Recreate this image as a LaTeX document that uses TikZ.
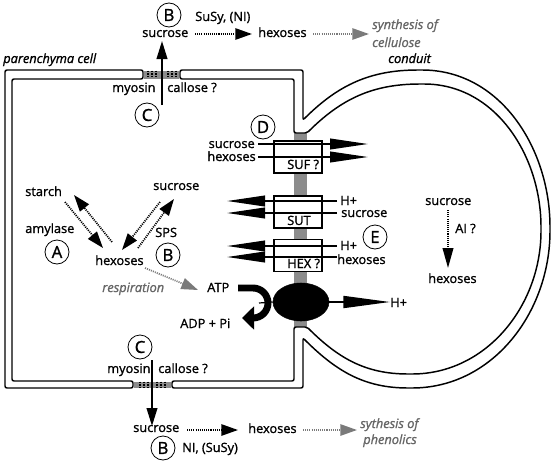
\documentclass[tikz,border=0pt]{standalone}
\usepackage{fontspec}
\setmainfont{Open Sans}[FakeBold=1.2]
\usetikzlibrary{arrows.meta,shapes.geometric}
\definecolor{txtgray}{HTML}{666666}
\definecolor{arrgray}{HTML}{7A7A7A}
\definecolor{bargray}{HTML}{8C8C8C}
\begin{document}
\begin{tikzpicture}[x=0.75pt,y=0.75pt,
 every node/.style={font=\fontsize{9.6}{11}\selectfont, inner sep=0pt},
 lbl/.style={anchor=base west},
 lblr/.style={anchor=base east},
 gtxt/.style={anchor=base west, text=txtgray, font=\fontsize{9.6}{11}\selectfont\itshape},
 itxt/.style={anchor=base west, font=\fontsize{9.6}{11}\selectfont\itshape},
 circ/.style={draw, circle, line width=0.6pt, minimum size=18pt, font=\fontsize{12.5}{13}\selectfont},
 wall/.style={draw, line width=1.1pt, fill=white, rounded corners=1.5pt},
 pddot/.style={line width=0.9pt, dash pattern=on 1pt off 1pt},
 bigarrow/.style={line width=1.4pt, -{Triangle[length=13.5pt,width=8pt]}},
 dotarrow/.style={line width=1.3pt, dash pattern=on 0.8pt off 0.8pt, -{Triangle[length=12.5pt,width=8.5pt]}},
 grayarrow/.style={line width=1.3pt, draw=arrgray, dash pattern=on 0.8pt off 0.8pt, -{Triangle[length=12.5pt,width=8.5pt,fill=arrgray]}},
 trarrow/.style={line width=1.3pt, -{Triangle[length=28.5pt,width=8pt]}},
 tbox/.style={draw, line width=1pt, fill=white, minimum width=36pt, minimum height=24pt}
]
\path[use as bounding box] (0,0) rectangle (553,-464);

% gray membrane bar
\fill[bargray] (294,-133) rectangle (307,-327);

% cell wall (left part)
\draw[wall] (143,-70) -- (5,-70) -- (5,-388) -- (133,-388) -- (133,-381) -- (12,-381) -- (12,-79) -- (143,-79) -- cycle;
% cell wall (right part) + conduit
\draw[wall] (180,-70) -- (303,-70) -- (303,-120) to[out=45,in=180] (420,-70) to[out=0,in=90] (550,-229)
  to[out=-90,in=0] (410,-388) to[out=180,in=-45] (303,-338) -- (303,-388) -- (172,-388) -- (172,-381)
  -- (294,-381) -- (294,-327) -- (307,-327) to[out=-45,in=180] (410,-374) to[out=0,in=-90] (541,-229)
  to[out=90,in=0] (422,-84) to[out=180,in=45] (307,-133) -- (294,-133) -- (294,-79) -- (180,-79) -- cycle;

% plasmodesmata
\fill[bargray] (143.6,-70.5) rectangle (179.4,-78.5);
\fill[bargray] (133.6,-381.5) rectangle (171.4,-387.5);
\foreach \x in {148,152,156,168,172,176} \draw[pddot] (\x,-70.5) -- (\x,-78.5);
\foreach \x in {140,144,148,157,161,165} \draw[pddot] (\x,-381.5) -- (\x,-387.5);

% ---------- top ----------
\node[circ] (cB1) at (169,-15) {B};
\node[lbl] (susy1) at (195,-21) {SuSy, (NI)};
\node[lbl] (suc1) at (142,-37) {sucrose};
\node[lbl] (hex1) at (258,-37) {hexoses};
\node[gtxt] (syn1a) at (372,-29) {synthesis of};
\node[gtxt] (syn1b) at (372,-47) {cellulose};
\node[itxt] (cond) at (388,-63) {conduit};
\node[itxt] (paren) at (3,-63) {parenchyma cell};
\node[lbl] (myo1) at (112,-92) {myosin};
\node[lbl] (cal1) at (167,-92) {callose ?};
\node[circ] (cC1) at (147,-115) {C};
\coordinate (a1s) at (162,-105);
\coordinate (a1e) at (162,-41);
\draw[bigarrow] (a1s) -- (a1e);
\coordinate (d1s) at (195,-34);
\coordinate (d1e) at (252,-34);
\draw[dotarrow] (d1s) -- (d1e);
\coordinate (g1s) at (313,-34);
\coordinate (g1e) at (369,-34);
\draw[grayarrow] (g1s) -- (g1e);

% ---------- interior ----------
\node[lbl] (starch) at (25,-196) {starch};
\node[lbl] (amyl) at (25,-233) {amylase};
\node[circ] (cA) at (57,-252) {A};
\node[lbl] (hexI) at (95,-265) {hexoses};
\node[lbl] (sucI) at (153,-190) {sucrose};
\node[lbl] (sps) at (155,-237) {SPS};
\node[circ] (cB2) at (168,-255) {B};
\node[gtxt] (resp) at (102,-292) {respiration};
\node[lbl] (atp) at (207,-292) {ATP};
\node[lbl] (adp) at (180,-328) {ADP + Pi};
\node[circ] (cC2) at (140,-347) {C};

\coordinate (s1) at (65,-202); \coordinate (s2) at (103,-248);
\coordinate (s3) at (112,-242); \coordinate (s4) at (74,-195);
\coordinate (u1) at (160,-202); \coordinate (u2) at (122,-250);
\coordinate (u3) at (138,-248); \coordinate (u4) at (174,-199);
\draw[dotarrow] (s1) -- (s2);
\draw[dotarrow] (s3) -- (s4);
\draw[dotarrow] (u1) -- (u2);
\draw[dotarrow] (u3) -- (u4);
\coordinate (r1) at (145,-268); \coordinate (r2) at (198,-290);
\draw[grayarrow] (r1) -- (r2);

% ATP hook and pump
\node[draw, fill=black, ellipse, minimum width=42pt, minimum height=28.5pt] (pump) at (301,-302) {};
\coordinate (hk) at (259,-303);
\draw[line width=0.9pt] (hk) -- (pump.west);
\draw[line width=5.2pt, -{Triangle[length=9pt,width=17pt]}] (238,-288) -- (253,-288) arc[start angle=90, end angle=-90, radius=11.25pt] -- (242,-318);

% transporters
\node[circ] (cD) at (263,-127) {D};
\node[lblr] (sucD) at (255,-148) {sucrose};
\node[lblr] (hexD) at (256,-161) {hexoses};
\node[tbox] (suf) at (298,-157) {};
\node[tbox] (sut) at (298,-212) {};
\node[tbox] (hexb) at (298,-255.5) {};
\node[lbl] (sufl) at (287,-169) {SUF ?};
\node[lbl] (sutl) at (287,-225) {SUT};
\node[lbl] (hexl) at (287,-268) {HEX ?};
\coordinate (f1s) at (258,-144); \coordinate (f1e) at (368,-144);
\coordinate (f2s) at (258,-157); \coordinate (f2e) at (368,-157);
\draw[trarrow] (f1s) -- (f1e);
\draw[trarrow] (f2s) -- (f2e);
\node[lbl] (hp1) at (340,-205) {H+};
\node[lbl] (sucS) at (341,-217) {sucrose};
\node[lbl] (hp2) at (340,-250) {H+};
\node[lbl] (hexS) at (337,-264) {hexoses};
\coordinate (t1s) at (337,-201); \coordinate (t1e) at (227,-201);
\coordinate (t2s) at (337,-213); \coordinate (t2e) at (227,-213);
\coordinate (t3s) at (337,-246); \coordinate (t3e) at (227,-246);
\coordinate (t4s) at (337,-257); \coordinate (t4e) at (227,-257);
\draw[trarrow] (t1s) -- (t1e);
\draw[trarrow] (t2s) -- (t2e);
\draw[trarrow] (t3s) -- (t3e);
\draw[trarrow] (t4s) -- (t4e);
\node[circ] (cE) at (375,-237) {E};
\node[lbl] (hp3) at (390,-307) {H+};
\draw[line width=1.3pt, -{Triangle[length=35pt,width=9pt]}] (pump.east) -- (hp3.west |- pump.east);

% conduit lumen
\node[lbl] (sucR) at (425,-205) {sucrose};
\node[lbl] (ai) at (455,-233) {AI ?};
\node[lbl] (hexR) at (428,-283) {hexoses};
\coordinate (ai1) at (448,-210); \coordinate (ai2) at (448,-268);
\draw[line width=1.3pt, dash pattern=on 0.8pt off 0.8pt, -{Triangle[length=15pt,width=8pt]}] (ai1) -- (ai2);

% ---------- bottom ----------
\node[lbl] (myo2) at (107,-373) {myosin};
\node[lbl] (cal2) at (158,-373) {callose ?};
\coordinate (a2s) at (152,-360);
\coordinate (a2e) at (152,-426);
\draw[bigarrow] (a2s) -- (a2e);
\node[lbl] (suc2) at (133,-432) {sucrose};
\node[lbl] (hex2) at (248,-433) {hexoses};
\coordinate (d2s) at (187,-430); \coordinate (d2e) at (238,-430);
\draw[dotarrow] (d2s) -- (d2e);
\coordinate (g2s) at (303,-430); \coordinate (g2e) at (357,-430);
\draw[grayarrow] (g2s) -- (g2e);
\node[gtxt] (syn2a) at (360,-428) {sythesis of};
\node[gtxt] (syn2b) at (363,-444) {phenolics};
\node[circ] (cB3) at (163,-448) {B};
\node[lbl] (ni) at (182,-452) {NI, (SuSy)};
\end{tikzpicture}
\end{document}
